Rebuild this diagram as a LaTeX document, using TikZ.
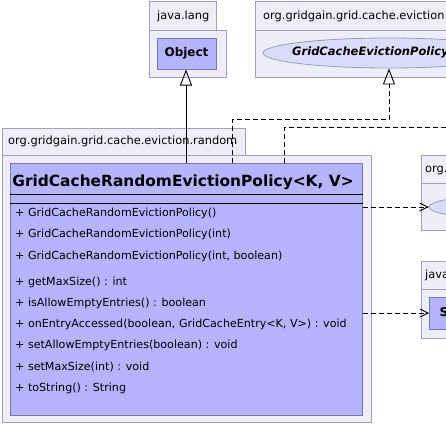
\documentclass[tikz,border=0pt]{standalone}
\usepackage{fontspec}
\setmainfont{DejaVu Sans}
\usetikzlibrary{shapes.geometric,arrows.meta}
\definecolor{pkgfill}{HTML}{EEEEFA}
\definecolor{pkgline}{HTML}{A0A0B4}
\definecolor{clsfill}{HTML}{B4B4FF}
\definecolor{clsline}{HTML}{7878A8}
\definecolor{ellfill}{HTML}{DCDCFA}
\definecolor{ellline}{HTML}{9898BC}
\tikzset{
  pkg/.style={draw=pkgline, fill=pkgfill, line width=0.9pt},
  pkgtext/.style={anchor=west, inner sep=0pt, font=\fontsize{11.4}{13}\selectfont},
  clsbox/.style={draw=clsline, fill=clsfill, line width=1pt, inner sep=0pt},
  ellbox/.style={ellipse, draw=ellline, fill=ellfill, line width=0.8pt, inner sep=0pt},
  member/.style={anchor=west, inner sep=0pt, font=\fontsize{11.1}{13}\selectfont},
  gen/.style={draw=black, line width=0.9pt, -{Triangle[open, length=16pt, width=12pt, line width=0.9pt]}},
  real/.style={draw=black, line width=0.9pt, dash pattern=on 5pt off 3pt, -{Triangle[open, length=16pt, width=12pt, line width=0.9pt]}},
  dep/.style={draw=black, line width=0.9pt, dash pattern=on 5pt off 3pt, -{Straight Barb[length=8pt, width=8pt, line width=0.9pt]}},
  dashline/.style={draw=black, line width=0.9pt, dash pattern=on 5pt off 3pt}
}
\begin{document}
\begin{tikzpicture}[x=1pt, y=-1pt]
\useasboundingbox (0,0) rectangle (446,424);
\clip (0,0) rectangle (446,424);
\fill[white] (0,0) rectangle (446,424);

% package java.lang (top)
\draw[pkg] (149,1) rectangle (216,30);
\draw[pkg] (149,30) rectangle (226,77);
\node[pkgtext] (tjl) at (157,16) {java.lang};
\node[clsbox, minimum width=59pt, minimum height=31pt, font=\bfseries\fontsize{12}{14}\selectfont] (obj) at (186.5,53.5) {Object};

% package org.gridgain.grid.cache.eviction (top)
\draw[pkg] (255,1) rectangle (470,30);
\draw[pkg] (255,30) rectangle (470,77);
\node[pkgtext] (tev) at (263,16) {org.gridgain.grid.cache.eviction};
\node[ellbox, minimum width=252pt, minimum height=30pt] (ev) at (389,53) {};
\node[anchor=west, inner sep=0pt, font=\bfseries\itshape\fontsize{11.5}{14}\selectfont] (evt) at (292,52) {GridCacheEvictionPolicy};

% package org.gridgain.grid.cache.eviction.random
\draw[pkg] (2,128) rectangle (245,155);
\draw[pkg] (2,155) rectangle (371,422);
\node[pkgtext] (trd) at (8,141.5) {org.gridgain.grid.cache.eviction.random};

% class
\node[clsbox, minimum width=352pt, minimum height=252pt] (cls) at (186,289) {};
\node[inner sep=0pt, font=\bfseries\fontsize{15.4}{18}\selectfont] (title) at (183,182) {GridCacheRandomEvictionPolicy<K, V>};
\draw[black, line width=1pt] (cls.west |- 0,194) -- (cls.east |- 0,194);
\draw[black, line width=1pt] (cls.west |- 0,203) -- (cls.east |- 0,203);
\node[member] (m1) at (15,213.5) {+ GridCacheRandomEvictionPolicy()};
\node[member] (m2) at (15,234.8) {+ GridCacheRandomEvictionPolicy(int)};
\node[member] (m3) at (15,256) {+ GridCacheRandomEvictionPolicy(int, boolean)};
\node[member] (m4) at (15,282.5) {+ getMaxSize() : int};
\node[member] (m5) at (15,303.6) {+ isAllowEmptyEntries() : boolean};
\node[member] (m6) at (15,324.7) {+ onEntryAccessed(boolean, GridCacheEntry<K, V>) : void};
\node[member] (m7) at (15,345.8) {+ setAllowEmptyEntries(boolean) : void};
\node[member] (m8) at (15,366.9) {+ setMaxSize(int) : void};
\node[member] (m9) at (15,388) {+ toString() : String};

% right package org...
\draw[pkg] (421,155) rectangle (520,183);
\draw[pkg] (421,183) rectangle (520,230);
\node[pkgtext] (tro) at (425,169) {org.gridgain.grid.cache};
\node[ellbox, minimum width=120pt, minimum height=21pt] (ev2) at (489,207) {};

% right package java.lang
\draw[pkg] (421,261) rectangle (520,289);
\draw[pkg] (421,289) rectangle (520,338);
\node[pkgtext] (trj) at (425,275) {java.lang};
\node[clsbox, anchor=west, minimum width=62pt, minimum height=32pt, font=\bfseries\fontsize{12}{14}\selectfont] (str) at (429,313) {String};

% connectors
\draw[gen] (cls.north) -- (cls.north |- obj.south);
\coordinate (r1) at (232,119);
\draw[real] (r1 |- cls.north) -- (r1) -- (ev.south |- r1) -- (ev.south);
\coordinate (d1) at (284,127);
\coordinate (dend) at (470,127);
\draw[dashline] (d1 |- cls.north) -- (d1) -- (dend);
\draw[dep] (cls.east |- ev2.west) -- (ev2.west);
\draw[dep] (cls.east |- str.west) -- (str.west);
\end{tikzpicture}
\end{document}
